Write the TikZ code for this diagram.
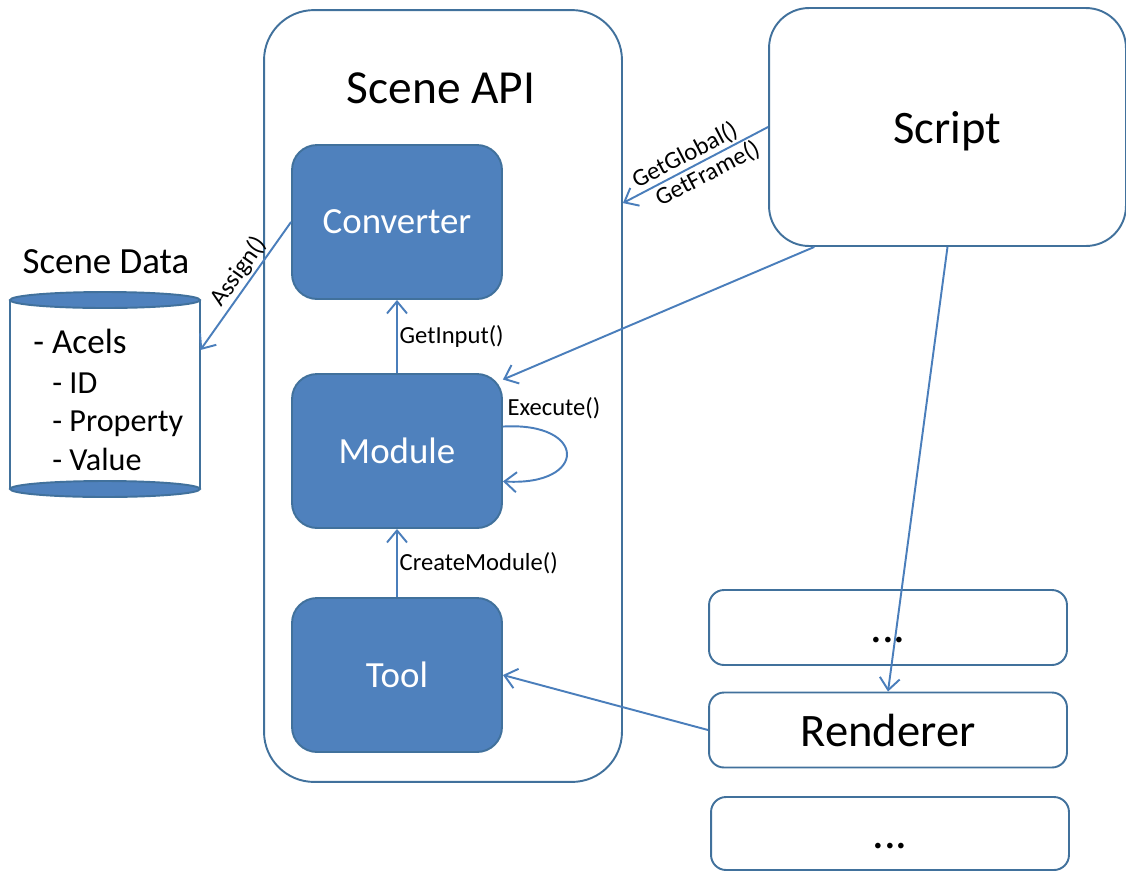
\documentclass[tikz,border=0pt]{standalone}
\usepackage{fontspec}
\setmainfont{Carlito}
\usetikzlibrary{positioning, arrows.meta, calc}

\definecolor{boxblue}{HTML}{4F81BD}
\definecolor{edgeblue}{HTML}{41719C}
\definecolor{callblue}{HTML}{4A7EBB}

\begin{document}
\begin{tikzpicture}[x=0.02cm, y=-0.02cm,
  outerbox/.style={draw=edgeblue, line width=1.1pt, fill=white},
  blockbox/.style={draw=edgeblue, fill=boxblue, line width=1.1pt, rounded corners=0.5cm,
    minimum width=4.2cm, minimum height=3.08cm, text=white, font=\fontsize{21}{25}\selectfont},
  slotbox/.style={draw=edgeblue, line width=1.1pt, rounded corners=0.3cm,
    minimum width=7.16cm, minimum height=1.5cm, font=\fontsize{26.5}{30}\selectfont},
  call/.style={draw=callblue, line width=1.1pt, -{Straight Barb[length=0.24cm, width=0.4cm]}},
  lbl/.style={font=\fontsize{14}{16}\selectfont, inner sep=1pt}]
\useasboundingbox (0,0) rectangle (1126,873);

% scene api with its blocks
\node[outerbox, minimum width=7.16cm, minimum height=15.44cm, rounded corners=1cm] (api) at (443,396) {};
\node[font=\fontsize{27}{32}\selectfont] (apititle) at (441,88) {Scene API};
\node[blockbox] (conv) at (397,222) {Converter};
\node[blockbox] (mod) at (397,451) {Module};
\node[blockbox] (tool) at (397,675) {Tool};

% script and renderers
\node[outerbox, minimum width=7.14cm, minimum height=4.76cm, rounded corners=0.8cm, text depth=0pt,
  font=\fontsize{26.5}{30}\selectfont] (script) at (947.5,127) {Script};
\node[slotbox] (dotsa) at (888,627.5) {\vphantom{R}...};
\node[slotbox] (rend) at (888,730) {Renderer};
\node[slotbox, minimum height=1.46cm] (dotsb) at (890,833.5) {\vphantom{R}...};

% scene data
\fill[white] (10,300) rectangle (200,489);
\draw[edgeblue, line width=1.1pt] (10,300) -- (10,489) (200,300) -- (200,489);
\filldraw[draw=edgeblue, fill=boxblue, line width=1.1pt] (105,489) ellipse (1.9cm and 0.16cm);
\filldraw[draw=edgeblue, fill=boxblue, line width=1.1pt] (105,300) ellipse (1.9cm and 0.16cm);
\node[minimum width=3.8cm, minimum height=3.78cm, inner sep=0] (data) at (105,394.5) {};
\node[anchor=base, font=\fontsize{21}{25}\selectfont] (datatitle) at (106,273) {Scene Data};
\node[anchor=base west, inner sep=0, font=\fontsize{20}{24}\selectfont] (acels) at (33,353) {- Acels};
\node[anchor=base west, inner sep=0, font=\fontsize{18.3}{21}\selectfont] (fid) at (52,393) {- ID};
\node[anchor=base west, inner sep=0, font=\fontsize{18.3}{21}\selectfont] (fprop) at (52,431) {- Property};
\node[anchor=base west, inner sep=0, font=\fontsize{18.3}{21}\selectfont] (fval) at (52,470) {- Value};

% calls
\draw[call] (conv.west) -- node[lbl, above, sloped, pos=0.45] {Assign()} (data.25);
\draw[call] (mod.north) -- node[lbl, right] {GetInput()} (conv.south);
\draw[call] (tool.north) -- node[lbl, right] {CreateModule()} (mod.south);
\draw[call] (mod.13) .. controls +(1.7cm,0.1cm) and +(1.7cm,-0.1cm) .. (mod.-16);
\node[lbl] (exec) at (554,408) {Execute()};
\draw[call] (script.west) -- node[lbl, above, sloped, pos=0.53] {GetGlobal()}
  node[lbl, below, sloped, pos=0.46] {GetFrame()} (api.47);
\draw[call] (script.222) -- (mod.34);
\draw[call] (script.south) -- (rend.north);
\draw[call] (rend.west) -- (tool.east);
\end{tikzpicture}
\end{document}
